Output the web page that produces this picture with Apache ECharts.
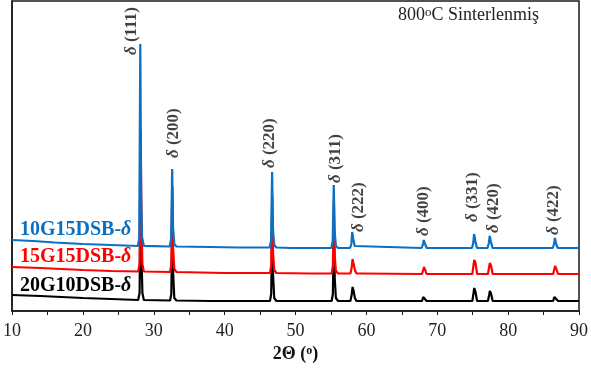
<!DOCTYPE html>
<html>
<head>
<meta charset="utf-8">
<script src="https://cdn.jsdelivr.net/npm/echarts@6/dist/echarts.min.js"></script>
<style>
  html, body { margin: 0; padding: 0; background: #fff; }
  #chart { width: 591px; height: 369px; }
</style>
</head>
<body>
<div id="chart"></div>
<script>
// XRD patterns of the three sintered samples, 2θ (degrees) vs. offset intensity (a.u.)
const xTicks = [10, 20, 30, 40, 50, 60, 70, 80, 90];

const seriesNames = ['20G10DSB-δ', '15G15DSB-δ', '10G15DSB-δ'];

const pattern10G15 = [
  [10, 71], [13, 70], [16, 68.5], [20, 67], [24, 66], [27.75, 65],
  [27.95, 72], [28.1, 267], [28.22, 115], [28.35, 74], [28.6, 65],
  [30, 64.8], [32.25, 64.5], [32.45, 72], [32.6, 142], [32.72, 84], [32.9, 67], [33.2, 64.5],
  [38, 64], [42, 63.5], [46.35, 63.5], [46.55, 70], [46.7, 139], [46.82, 82], [47.0, 66], [47.3, 63.5],
  [49.4, 63], [49.55, 65], [49.7, 63],
  [52, 63], [55.05, 63], [55.25, 70], [55.4, 126], [55.52, 80], [55.7, 65], [56.0, 63],
  [57.7, 63], [57.88, 67], [58.0, 79], [58.15, 72], [58.35, 65], [58.6, 63],
  [67.8, 63], [68.0, 67], [68.1, 71], [68.28, 67], [68.5, 63],
  [74.9, 63], [75.08, 68], [75.2, 77], [75.38, 70], [75.6, 63],
  [77.1, 63], [77.28, 68], [77.4, 75], [77.58, 69], [77.8, 63],
  [86.3, 63], [86.48, 67], [86.6, 73], [86.78, 67], [87.0, 63],
  [90, 63]
];

const pattern15G15 = [
  [10, 44], [14, 43], [20, 41], [24, 40], [27.8, 39.5],
  [28.0, 47], [28.15, 180], [28.28, 85], [28.4, 47], [28.6, 39.5],
  [32.3, 39], [32.48, 46], [32.62, 125], [32.74, 62], [32.9, 42], [33.2, 39],
  [40, 38], [46.4, 38], [46.57, 45], [46.72, 115], [46.84, 58], [47.0, 41], [47.3, 38],
  [52, 37.5], [55.1, 37.5], [55.27, 45], [55.42, 110], [55.54, 55], [55.7, 40], [56.0, 37.5],
  [57.75, 37.5], [57.92, 43], [58.05, 52], [58.2, 50], [58.38, 41], [58.6, 37.5],
  [59.2, 37.5], [59.3, 39], [59.4, 37.5],
  [67.85, 37], [68.02, 41], [68.12, 44], [68.3, 41], [68.5, 37],
  [74.95, 37], [75.12, 46], [75.22, 51], [75.4, 48], [75.62, 37],
  [77.15, 37], [77.32, 44], [77.42, 48], [77.6, 45], [77.82, 37],
  [86.35, 37], [86.52, 42], [86.62, 45], [86.8, 42], [87.05, 37],
  [90, 37]
];

const pattern20G10 = [
  [10, 16], [14, 15], [20, 13], [24, 12], [27.8, 11],
  [28.0, 18], [28.15, 120], [28.28, 52], [28.4, 18], [28.6, 11],
  [32.3, 10.5], [32.48, 17], [32.62, 90], [32.74, 37], [32.9, 13], [33.2, 10.5],
  [38, 10], [46.4, 10], [46.57, 17], [46.72, 90], [46.84, 35], [47.0, 13], [47.3, 10],
  [52, 10], [55.1, 10], [55.27, 17], [55.42, 85], [55.54, 32], [55.7, 13], [56.0, 10],
  [57.75, 10], [57.92, 16], [58.05, 24], [58.2, 20], [58.38, 13], [58.6, 10],
  [67.85, 10], [68.02, 14], [68.12, 16], [68.3, 14], [68.5, 10],
  [74.95, 10], [75.12, 18], [75.22, 23], [75.4, 19], [75.62, 10],
  [77.15, 10], [77.32, 16], [77.42, 20], [77.6, 17], [77.82, 10],
  [86.35, 10], [86.52, 14], [86.62, 16], [86.8, 14], [87.05, 10],
  [90, 10]
];

// Miller indices of the δ phase and where each index label sits (2θ, intensity)
const hklLabels = ['δ (111)', 'δ (200)', 'δ (220)', 'δ (311)', 'δ (222)', 'δ (400)', 'δ (331)', 'δ (420)', 'δ (422)'];
const hklLabelAt = [
  [26.9, 256], [32.8, 153], [46.4, 143], [55.6, 128], [58.9, 79],
  [68.1, 75], [75.0, 89], [77.9, 78], [86.4, 76]
];

const colors = ['#000000', '#ff0000', '#0b6fc2'];
const patterns = [pattern20G10, pattern15G15, pattern10G15];

const serif = '"Liberation Serif", "Times New Roman", serif';

const chart = echarts.init(document.getElementById('chart'), null, { renderer: 'canvas' });

const lineSeries = patterns.map((p, i) => ({
  name: seriesNames[i],
  type: 'line',
  data: p,
  showSymbol: false,
  symbol: 'none',
  lineStyle: { color: colors[i], width: 2.2 },
  z: 2 + i,
  silent: true,
  animation: false
}));

const labelSeries = {
  type: 'scatter',
  symbolSize: 0,
  silent: true,
  animation: false,
  z: 10,
  data: hklLabelAt.map((p, i) => ({ value: p, name: hklLabels[i] })),
  label: {
    show: true,
    position: [0, 0],
    rotate: 90,
    align: 'left',
    verticalAlign: 'middle',
    formatter: (p) => '{d|δ}' + p.name.slice(1),
    fontFamily: serif,
    fontWeight: 'bold',
    fontSize: 17,
    color: '#111',
    rich: { d: { fontStyle: 'italic', fontWeight: 'bold', fontFamily: serif, fontSize: 17, color: '#111' } }
  }
};

function sampleLabel(text, color, y) {
  const base = text.slice(0, -1);
  return {
    type: 'text',
    left: 20,
    top: y - 12,
    silent: true,
    style: {
      text: base + '{d|δ}',
      fill: color,
      font: 'bold 20px ' + serif,
      rich: { d: { fontStyle: 'italic', fontWeight: 'bold', fontFamily: serif, fontSize: 20, fill: color } }
    }
  };
}

chart.setOption({
  animation: false,
  backgroundColor: '#ffffff',
  grid: {
    left: 12, right: 8, top: 1, bottom: 58,
    show: true, borderColor: '#1a1a1a', borderWidth: 1.5, backgroundColor: 'transparent'
  },
  xAxis: {
    type: 'value',
    min: xTicks[0],
    max: xTicks[xTicks.length - 1],
    interval: 5,
    name: '2Θ ({o|o})',
    nameLocation: 'middle',
    nameGap: 34,
    nameTextStyle: {
      fontFamily: serif, fontWeight: 'bold', fontSize: 18, color: '#111',
      rich: { o: { fontFamily: serif, fontWeight: 'bold', fontSize: 12, color: '#111', verticalAlign: 'top', padding: [0, 0, 6, 0] } }
    },
    axisLine: { show: true, onZero: false, lineStyle: { color: '#1a1a1a', width: 1.5 } },
    axisTick: { show: true, inside: false, length: 4, lineStyle: { color: '#1a1a1a', width: 1 } },
    axisLabel: {
      margin: 11,
      fontFamily: serif,
      fontSize: 18,
      color: '#222',
      formatter: (v) => (xTicks.indexOf(v) >= 0 ? String(v) : '')
    },
    splitLine: { show: false }
  },
  yAxis: {
    type: 'value',
    min: 0,
    max: 310,
    axisLine: { show: true, lineStyle: { color: '#1a1a1a', width: 1.5 } },
    axisTick: { show: false },
    axisLabel: { show: false },
    splitLine: { show: false }
  },
  graphic: [
    {
      type: 'text',
      left: 398,
      top: 6,
      silent: true,
      style: {
        text: '800{o|o}C Sinterlenmiş',
        fill: '#222',
        font: '18px ' + serif,
        rich: { o: { fontFamily: serif, fontSize: 13, fill: '#222', verticalAlign: 'top', padding: [0, 0, 6, 0] } }
      }
    },
    sampleLabel(seriesNames[2], colors[2], 232),
    sampleLabel(seriesNames[1], colors[1], 259),
    sampleLabel(seriesNames[0], colors[0], 288)
  ],
  series: [...lineSeries, labelSeries]
});
</script>
</body>
</html>
